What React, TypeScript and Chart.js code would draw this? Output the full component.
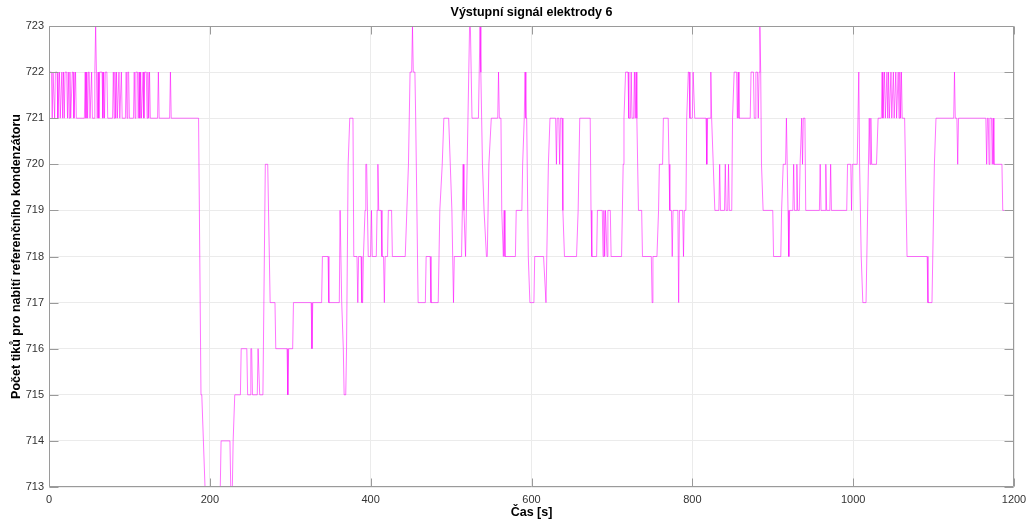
import { useEffect, useRef } from "react";
import { Chart, registerables } from "chart.js";

Chart.register(...registerables);

const TITLE = "Výstupní signál elektrody 6";
const X_LABEL = "Čas [s]";
const Y_LABEL = "Počet tiků pro nabití referenčního kondenzátoru";
const X_TICKS = [0, 200, 400, 600, 800, 1000, 1200];
const Y_TICKS = [713, 714, 715, 716, 717, 718, 719, 720, 721, 722, 723];

// [time s, count]
const phase1: [number, number][] = [
  [0, 722], [3, 722], [4, 721], [5, 722], [6, 722], [7, 721], [8, 722], [10, 722], [11, 721],
  [13, 722], [14, 721], [16, 722], [17, 721], [18, 722], [19, 721], [20, 722], [22, 722], [23, 721],
  [24, 722], [25, 721], [26, 722], [27, 721], [29, 722], [30, 722], [31, 721], [33, 722], [34, 721],
  [44, 721], [45, 722], [46, 721], [47, 722], [48, 721], [49, 722], [50, 722], [51, 721], [53, 722],
  [54, 721], [56, 721], [57, 722], [58, 723], [59, 722], [60, 721], [61, 722], [62, 721], [63, 722],
  [66, 722], [67, 721], [68, 722], [69, 721], [70, 722], [72, 722], [73, 721], [79, 721], [80, 722],
  [81, 721], [82, 722], [83, 721], [84, 722], [85, 721], [87, 722], [88, 721], [90, 722], [91, 721],
  [95, 721], [96, 722], [97, 721], [98, 722], [99, 722], [100, 721], [105, 721], [106, 722], [107, 721],
  [108, 722], [110, 722], [111, 721], [112, 722], [113, 721], [114, 722], [115, 721], [117, 722],
  [118, 721], [119, 722], [121, 722], [122, 721], [123, 722], [124, 721], [125, 722], [126, 721],
  [135, 721], [136, 722], [137, 721], [150, 721], [151, 722], [152, 721], [186, 721],
];

const phase2: [number, number][] = [
  [189, 715], [190, 715], [192, 714], [194, 713], [213, 713], [214, 714], [225, 714], [226, 713],
  [228, 713], [229, 714], [230, 714], [231, 715], [238, 715], [239, 716], [246, 716], [247, 715],
  [250, 715], [251, 716], [252, 716], [253, 715], [259, 715], [260, 716], [261, 716], [262, 715],
  [266, 715], [269, 720], [272, 720], [275, 717], [281, 717], [282, 716], [296, 716], [297, 715],
  [298, 716], [303, 716], [304, 717], [326, 717], [327, 716], [328, 717], [339, 717], [340, 718],
  [347, 718], [348, 717], [361, 717], [362, 719], [363, 719], [364, 717], [366, 716], [367, 715],
  [369, 715], [370, 716], [372, 720], [374, 721], [378, 721],
];

const phase3: [number, number][] = [
  [379, 718], [383, 718], [384, 717], [385, 718], [388, 718], [389, 717], [390, 717], [391, 718],
  [393, 719], [394, 720], [395, 720], [396, 719], [397, 718], [400, 718], [401, 719], [402, 718],
  [407, 718], [408, 719], [409, 720], [410, 719], [413, 719], [414, 718], [416, 718], [417, 717],
  [418, 718], [421, 718], [422, 719], [426, 719], [427, 718], [443, 718], [445, 719], [447, 720],
  [449, 722], [451, 722], [452, 723], [453, 722], [455, 722], [456, 721], [459, 717], [468, 717],
  [469, 718], [474, 718], [475, 717], [484, 717], [486, 719], [489, 720], [491, 721], [497, 721],
  [499, 720], [501, 719], [503, 717], [504, 718], [513, 718], [514, 719], [515, 720], [516, 719],
  [518, 718], [520, 720], [522, 722], [523, 723], [524, 723], [526, 721], [534, 721], [535, 722],
  [536, 723], [537, 722], [539, 720], [541, 719], [544, 718], [545, 718], [547, 720], [550, 721],
  [558, 721], [559, 722], [560, 721], [562, 721],
];

const phase4: [number, number][] = [
  [563, 719], [565, 718], [566, 719], [567, 718], [580, 718], [581, 719], [588, 719], [589, 720],
  [591, 721], [592, 722], [593, 721], [594, 721], [596, 718], [598, 717], [603, 717], [604, 718],
  [615, 718], [618, 717], [620, 719], [621, 720], [623, 721], [630, 721], [631, 720], [632, 721],
  [634, 721], [635, 720], [636, 721], [638, 721], [639, 719], [641, 718], [656, 718], [658, 719],
  [660, 721], [673, 721], [674, 719], [675, 718], [681, 718], [682, 719], [688, 719], [689, 718],
  [690, 719], [691, 718], [692, 719], [694, 718], [695, 719], [698, 719], [699, 718], [712, 718],
  [714, 720], [715, 721], [717, 722], [720, 722], [721, 721], [723, 721], [724, 722], [725, 721],
  [727, 721], [728, 722], [729, 721], [730, 722], [731, 721], [733, 719], [737, 719], [738, 718],
  [749, 718], [750, 717], [751, 718], [756, 718], [758, 719], [759, 720], [763, 720], [764, 721],
  [770, 721], [771, 720],
];

const phase5: [number, number][] = [
  [772, 719], [774, 719], [775, 718], [776, 719], [782, 719], [783, 717], [784, 719], [788, 719],
  [789, 718], [790, 719], [792, 719], [793, 721], [795, 722], [796, 722], [797, 721], [800, 721],
  [801, 722], [802, 722], [803, 721], [817, 721], [818, 720], [819, 721], [822, 721], [823, 722],
  [824, 721], [826, 720], [828, 719], [833, 719], [834, 720], [835, 719], [840, 719], [841, 720],
  [842, 719], [844, 719], [845, 720], [846, 719], [849, 719], [850, 721], [852, 722], [855, 722],
  [856, 721], [857, 722], [858, 721], [872, 721], [873, 722], [876, 722], [877, 721], [878, 721],
  [879, 722], [881, 722], [882, 721], [883, 722], [884, 723], [885, 722], [886, 720], [888, 719],
  [900, 719], [901, 718], [910, 718], [911, 719], [913, 720], [916, 720], [917, 721], [918, 720],
  [919, 719], [920, 718], [921, 719], [925, 719], [926, 720], [927, 719], [929, 719], [930, 720],
  [931, 719], [933, 719], [934, 720], [936, 721], [937, 720], [938, 721], [940, 721], [941, 719],
  [958, 719], [959, 720], [960, 719], [965, 719], [966, 720], [967, 719], [971, 719], [972, 720],
  [973, 719], [992, 719], [993, 720], [997, 720], [998, 719], [999, 720], [1005, 720], [1007, 722],
  [1008, 720], [1010, 718], [1012, 717], [1016, 717], [1019, 720], [1020, 721], [1021, 720],
  [1022, 721], [1023, 720], [1029, 720],
];

const phase6: [number, number][] = [
  [1031, 721], [1035, 721], [1036, 722], [1037, 721], [1039, 722], [1040, 721], [1042, 722],
  [1043, 721], [1044, 722], [1045, 721], [1047, 722], [1048, 721], [1050, 722], [1051, 721],
  [1053, 722], [1054, 721], [1056, 722], [1057, 721], [1058, 722], [1059, 721], [1060, 722],
  [1061, 721], [1064, 721], [1067, 718], [1092, 718], [1093, 717], [1098, 717], [1101, 720],
  [1103, 721], [1125, 721], [1126, 722], [1127, 721], [1129, 721], [1130, 720], [1131, 721],
  [1165, 721], [1166, 720], [1167, 721], [1168, 721], [1169, 720], [1170, 721], [1172, 721],
  [1173, 720], [1174, 721], [1175, 720], [1185, 720], [1186, 719], [1188, 719],
];

const LINE_COLOR = "rgba(255, 0, 255, 0.55)";
const GRID_COLOR = "#ebebeb";
const AXIS_COLOR = "#9a9a9a";
const TICK_TEXT = "#333333";
const FONT = "'Liberation Sans', Arial, Helvetica, sans-serif";

const framePlugin = {
  id: "frame",
  afterDraw(chart: any) {
    const { ctx, chartArea, scales } = chart;
    const l = Math.round(chartArea.left) + 0.5;
    const r = Math.round(chartArea.right) - 0.5;
    const t = Math.round(chartArea.top) + 0.5;
    const b = Math.round(chartArea.bottom) - 0.5;
    ctx.save();
    ctx.strokeStyle = AXIS_COLOR;
    ctx.lineWidth = 1;
    ctx.beginPath();
    ctx.rect(l, t, r - l, b - t);
    for (const v of X_TICKS) {
      const px = Math.round(scales.x.getPixelForValue(v)) + 0.5;
      ctx.moveTo(px, b);
      ctx.lineTo(px, b - 8);
      ctx.moveTo(px, t);
      ctx.lineTo(px, t + 8);
    }
    for (const v of Y_TICKS) {
      const py = Math.round(scales.y.getPixelForValue(v)) + 0.5;
      ctx.moveTo(l, py);
      ctx.lineTo(l + 9, py);
      ctx.moveTo(r, py);
      ctx.lineTo(r - 9, py);
    }
    ctx.stroke();
    ctx.fillStyle = "#000";
    ctx.font = `bold 12.5px ${FONT}`;
    ctx.textAlign = "center";
    ctx.textBaseline = "middle";
    ctx.fillText(TITLE, (chartArea.left + chartArea.right) / 2, 13);
    ctx.restore();
  },
};

export default function App() {
  const ref = useRef<HTMLCanvasElement>(null);
  useEffect(() => {
    document.body.style.margin = "0";
    const canvas = ref.current;
    if (!canvas) return;
    const all = [...phase1, ...phase2, ...phase3, ...phase4, ...phase5, ...phase6];
    const data = all.map(([x, y]) => ({ x, y }));
    const chart = new Chart(canvas, {
      type: "line",
      data: {
        datasets: [
          {
            data,
            borderColor: LINE_COLOR,
            borderWidth: 1,
            pointRadius: 0,
            tension: 0,
            fill: false,
          },
        ],
      },
      options: {
        responsive: false,
        animation: false,
        devicePixelRatio: 1,
        layout: { padding: { top: 26, right: 13, left: 0, bottom: 0 } },
        plugins: {
          legend: { display: false },
          tooltip: { enabled: false },
          title: { display: false },
        },
        scales: {
          x: {
            type: "linear",
            min: 0,
            max: 1200,
            afterBuildTicks: (s: any) => {
              s.ticks = X_TICKS.map((v) => ({ value: v }));
            },
            afterFit: (s: any) => {
              s.height = 36;
              s.paddingLeft = 0;
              s.paddingRight = 0;
            },
            grid: { color: GRID_COLOR, drawTicks: false },
            border: { display: false },
            ticks: {
              padding: 6,
              color: TICK_TEXT,
              font: { family: FONT, size: 11 },
              maxRotation: 0,
              autoSkip: false,
              callback: (v: any) => String(v),
            },
            title: {
              display: true,
              text: X_LABEL,
              color: "#000",
              font: { family: FONT, size: 12.5, weight: "bold" },
              padding: { top: 0, bottom: 3 },
            },
          },
          y: {
            type: "linear",
            min: 713,
            max: 723,
            afterBuildTicks: (s: any) => {
              s.ticks = Y_TICKS.map((v) => ({ value: v }));
            },
            afterFit: (s: any) => {
              s.width = 49;
              s.paddingTop = 0;
              s.paddingBottom = 0;
            },
            grid: { color: GRID_COLOR, drawTicks: false },
            border: { display: false },
            ticks: {
              padding: 5,
              color: TICK_TEXT,
              font: { family: FONT, size: 11 },
              autoSkip: false,
              callback: (v: any) => String(v),
            },
            title: {
              display: true,
              text: Y_LABEL,
              color: "#000",
              font: { family: FONT, size: 12.5, weight: "bold" },
              padding: { top: 9, bottom: 0 },
            },
          },
        },
      },
      plugins: [framePlugin],
    });
    return () => chart.destroy();
  }, []);
  return (
    <div style={{ position: "fixed", left: 0, top: 0, width: 1027, height: 523, background: "#fff" }}>
      <canvas ref={ref} width={1027} height={523} style={{ display: "block" }} />
    </div>
  );
}
